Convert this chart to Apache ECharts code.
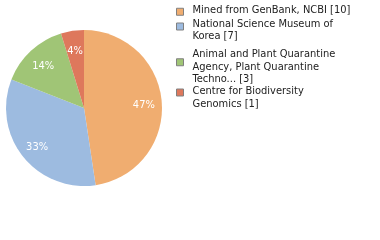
<!DOCTYPE html>
<html><head><meta charset="utf-8">
<script src="https://cdn.jsdelivr.net/npm/echarts@6/dist/echarts.min.js"></script>
<style>html,body{margin:0;padding:0;background:#fff}#c{width:380px;height:240px}</style>
</head><body><div id="c"></div>
<script>
const categories = ["Mined from GenBank, NCBI", "National Science Museum of Korea", "Animal and Plant Quarantine Agency, Plant Quarantine Techno...", "Centre for Biodiversity Genomics"];
const legendLines = [["Mined from GenBank, NCBI [10]"], ["National Science Museum of", "Korea [7]"], ["Animal and Plant Quarantine", "Agency, Plant Quarantine", "Techno... [3]"], ["Centre for Biodiversity", "Genomics [1]"]];
const values = [10, 7, 3, 1];
const colors = ["#F0AD70", "#9DBBE0", "#A0C576", "#DE785C"];

const FONT = "DejaVu Sans Condensed";
const data = categories.map((n, i) => ({ name: n, value: values[i], itemStyle: { color: colors[i] } }));
const total = values.reduce((a, b) => a + b, 0);

const LH = 12.5;
const spacers = [[0, 3], [7.5, 0], [9, 0], [10, 0]];
const textTops = [4.75, 21, 52, 89.5];
const legends = categories.map((n, i) => {
  const [st, sb] = spacers[i];
  return {
    data: [n], left: 176, top: textTops[i] - st, padding: 0,
    icon: 'rect', itemWidth: 7, itemHeight: 7,
    itemStyle: { borderColor: '#808080', borderWidth: 1 },
    selectedMode: false,
    formatter: () => {
      let parts = [];
      if (st) parts.push('{st| }');
      legendLines[i].forEach(l => parts.push('{t|' + l + '}'));
      if (sb) parts.push('{sb| }');
      return parts.join('\n');
    },
    textStyle: {
      fontFamily: FONT, fontSize: 11, color: '#222', padding: [0, 0, 0, 4],
      rich: {
        t: { fontFamily: FONT, fontSize: 11, color: '#222', lineHeight: LH },
        st: { fontSize: 1, lineHeight: st || 1 },
        sb: { fontSize: 1, lineHeight: sb || 1 }
      }
    }
  };
});

const chart = echarts.init(document.getElementById('c'), null, { renderer: 'canvas' });
chart.setOption({
  animation: false,
  legend: legends,
  series: [
    { type: 'pie', center: [84, 108], radius: [0, 78], startAngle: 90, data: data,
      label: { show: false }, labelLine: { show: false }, silent: true },
    { type: 'pie', center: [84, 110], radius: [36, 78], startAngle: 90, silent: true,
      data: data.map(d => ({ name: d.name, value: d.value, itemStyle: { color: 'rgba(0,0,0,0)' } })),
      legendHoverLink: false,
      label: { show: true, position: 'inside', color: '#fff', fontFamily: FONT, fontSize: 11,
        formatter: p => Math.floor(p.value / total * 100) + '%' },
      labelLine: { show: false } }
  ]
});
</script></body></html>
